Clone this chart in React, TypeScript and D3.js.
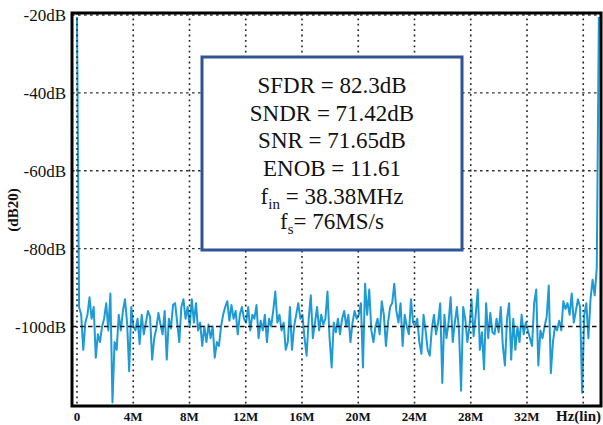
import React from "react";
import * as d3 from "d3";

// ADC output spectrum: FFT bins (dB20) from DC up to near fs/2
const FS_MHZ = 76;
const N_FFT = 512;

const dcBin = [-20.5];
const bins0to4M = [
  -95, -97, -106, -99, -97, -92.5, -98, -95, -108, -102, -104, -100, -98, -94,
  -101, -91.5, -119.5, -104, -106, -97, -101, -96, -93, -99, -111.5, -95, -100,
];
const bins4to8M = [
  -101, -98, -104.5, -97, -102, -99, -96, -97.5, -108.5, -103, -100.5, -96.5,
  -99.5, -102, -96, -108.5, -98, -100.5, -94.5, -94, -99, -104, -95, -93, -98,
  -95, -100,
];
const bins8to12M = [
  -93, -99, -94, -101, -99, -105, -100, -104, -99.5, -103, -100, -108, -104,
  -105, -100, -97, -95, -93.5, -98.5, -94.5, -98, -96, -102, -97, -95, -98,
];
const bins12to16M = [
  -99, -95, -101, -97, -98, -94.5, -103, -98.5, -101, -97, -104, -98, -100, -96,
  -91, -99, -97, -101, -99, -106, -104, -95, -106, -100, -97, -94, -98,
];
const bins16to20M = [
  -97, -103, -107.5, -98, -92, -103, -99, -95, -101, -97, -99.5, -98, -91, -103,
  -110.5, -99, -101.5, -98, -102, -98, -96, -100, -97, -104, -99, -96, -98,
];
const bins20to24M = [
  -97, -94, -110.5, -89, -97, -90.5, -101, -104, -100, -98, -102, -93.5, -97,
  -105, -99, -95, -94, -89, -96, -99, -94, -105, -97, -100, -102, -93, -99,
];
const bins24to28M = [
  -100, -98, -104, -107, -97, -101, -106, -107.5, -100.5, -97, -102, -99, -94,
  -114.5, -97, -103, -99, -92.5, -104, -99, -95, -101, -116.5, -95, -98, -104,
  -100,
];
const bins28to32M = [
  -93, -102.5, -97, -90.5, -106, -101.5, -111, -94, -103, -96.5, -101.5, -102,
  -98, -101.5, -95, -105, -110, -98, -94, -108.5, -98, -106, -100, -104, -97,
  -102, -99,
];
const bins32to36M = [
  -101, -103, -105, -94, -90.5, -110, -101, -103, -100, -97.5, -89.5, -112,
  -104, -100, -101, -98.5, -101, -93.5, -95.5, -94, -97, -91.5, -99, -96, -93,
  -95, -117,
];
const binsAbove36M = [-97, -94, -103, -93, -88, -92, -85, -20.5];

const spectrumDb = [
  ...dcBin,
  ...bins0to4M,
  ...bins4to8M,
  ...bins8to12M,
  ...bins12to16M,
  ...bins16to20M,
  ...bins20to24M,
  ...bins24to28M,
  ...bins28to32M,
  ...bins32to36M,
  ...binsAbove36M,
];

const xTickValues = [0, 4, 8, 12, 16, 20, 24, 28, 32];
const xTickLabels = ["0", "4M", "8M", "12M", "16M", "20M", "24M", "28M", "32M"];
const xGridValues = [0, 4, 8, 12, 16, 20, 24, 28, 32, 36];
const yTickValues = [-20, -40, -60, -80, -100];
const yTickLabels = ["-20dB", "-40dB", "-60dB", "-80dB", "-100dB"];

const metricLines = [
  { main: "SFDR = 82.3dB" },
  { main: "SNDR = 71.42dB" },
  { main: "SNR = 71.65dB" },
  { main: "ENOB = 11.61" },
  { main: "f", sub: "in", rest: " = 38.38MHz" },
  { main: "f", sub: "s", rest: "= 76MS/s" },
];

const W = 603;
const H = 425;
const frame = { left: 72, top: 13, right: 601, bottom: 406 };
const SERIF = "Liberation Serif";
const traceColor = "#1e9ad6";

export default function App() {
  const x = d3.scaleLinear().domain([0, 32]).range([77, 527]);
  const y = d3.scaleLinear().domain([-20, -100]).range([15, 326.5]);

  const line = d3
    .line<number>()
    .x((_, i) => x((i * FS_MHZ) / N_FFT))
    .y((d) => y(d));

  const boxX = 202;
  const boxY = 57;
  const boxW = 260;
  const boxH = 193;
  const boxCx = boxX + boxW / 2;
  const baselines = [93, 121, 148, 176, 204, 229];

  return (
    <div style={{ position: "absolute", left: 0, top: 0, width: W, height: H, background: "#fff" }}>
      <svg width={W} height={H} style={{ display: "block" }}>
        {/* spectrum trace */}
        <path d={line(spectrumDb) ?? ""} fill="none" stroke={traceColor} strokeWidth={2} strokeLinejoin="round" />

        {/* grid */}
        {xGridValues.map((v) => (
          <line
            key={`gx${v}`}
            x1={x(v)}
            x2={x(v)}
            y1={frame.top}
            y2={frame.bottom}
            stroke="#222"
            strokeWidth={1.6}
            strokeDasharray="1.8,3.6"
          />
        ))}
        {yTickValues.map((v) => (
          <line
            key={`gy${v}`}
            x1={frame.left}
            x2={frame.right}
            y1={y(v)}
            y2={y(v)}
            stroke={v === -100 ? "#111" : "#333"}
            strokeWidth={v === -100 ? 1.6 : 1.4}
            strokeDasharray={v === -100 ? "4.5,3.5" : "2.6,3.4"}
          />
        ))}

        {/* frame */}
        <rect
          x={frame.left}
          y={frame.top}
          width={frame.right - frame.left}
          height={frame.bottom - frame.top}
          fill="none"
          stroke="#000"
          strokeWidth={3}
        />

        {/* y ticks */}
        {yTickValues.map((v, i) => (
          <text key={`ty${v}`} x={66} y={y(v) + 6} textAnchor="end" fontSize={17} fill="#111" fontFamily={SERIF}>
            {yTickLabels[i]}
          </text>
        ))}
        <text
          transform={`translate(18, 210) rotate(-90)`}
          textAnchor="middle"
          fontSize={15}
          fontWeight="bold"
          fill="#111"
          fontFamily={SERIF}
        >
          (dB20)
        </text>

        {/* x ticks */}
        {xTickValues.map((v, i) => (
          <text
            key={`tx${v}`}
            x={x(v)}
            y={421}
            textAnchor="middle"
            fontSize={13}
            fontWeight="bold"
            fill="#111"
            fontFamily={SERIF}
          >
            {xTickLabels[i]}
          </text>
        ))}
        <text x={601} y={421} textAnchor="end" fontSize={15} fontWeight="bold" fill="#111" fontFamily={SERIF}>
          Hz(lin)
        </text>

        {/* metrics box */}
        <rect x={boxX} y={boxY} width={boxW} height={boxH} fill="#fff" stroke="#2e5495" strokeWidth={3} />
        {metricLines.map((m, i) => (
          <text key={i} x={boxCx} y={baselines[i]} textAnchor="middle" fontSize={23} fill="#111" fontFamily={SERIF}>
            {m.main}
            {m.sub && (
              <tspan fontSize={15} dy={5}>
                {m.sub}
              </tspan>
            )}
            {m.rest && <tspan dy={m.sub ? -5 : 0}>{m.rest}</tspan>}
          </text>
        ))}
      </svg>
    </div>
  );
}
